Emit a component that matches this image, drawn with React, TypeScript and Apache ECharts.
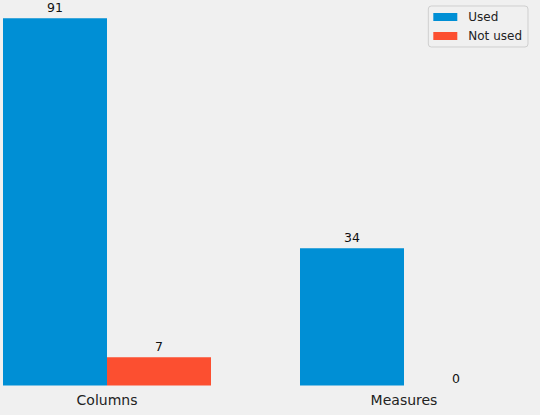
import React, { useEffect, useRef } from "react";
import * as echarts from "echarts";

const categories = ["Columns", "Measures"];
const usedValues = [91, 34];
const notUsedValues = [7, 0];
const seriesNames = ["Used", "Not used"];

export default function App() {
  const ref = useRef<HTMLDivElement>(null);
  useEffect(() => {
    document.body.style.margin = "0";
    document.body.style.background = "#f0f0f0";
    const chart = echarts.init(ref.current!, null, { renderer: "svg" });
    const font = "DejaVu Sans";
    const label = {
      show: true,
      position: "top" as const,
      distance: 4,
      color: "#111",
      fontSize: 12.5,
      fontFamily: font,
    };
    const toData = (vals: number[]) =>
      vals.map((v) => (v === 0 ? { value: v, label: { distance: 1 } } : v));
    chart.setOption({
      animation: false,
      backgroundColor: "#f0f0f0",
      textStyle: { fontFamily: font },
      grid: { left: 107, right: 136, top: 0, bottom: 29.5 },
      xAxis: {
        type: "category",
        data: categories,
        boundaryGap: false,
        axisLine: { show: false },
        axisTick: { show: false },
        splitLine: { show: false },
        axisLabel: { color: "#222", fontSize: 14, fontFamily: font, margin: 7 },
      },
      yAxis: {
        type: "value",
        min: 0,
        max: 95.55,
        show: false,
        splitLine: { show: false },
      },
      legend: {
        orient: "vertical",
        right: 12,
        top: 6,
        data: seriesNames,
        itemWidth: 24,
        itemHeight: 8,
        itemGap: 7,
        padding: [5, 6, 5, 5],
        backgroundColor: "#f0f0f0",
        borderColor: "#cfcfcf",
        borderWidth: 1,
        borderRadius: 3,
        icon: "rect",
        textStyle: { color: "#222", fontSize: 12, fontFamily: font, padding: [0, 0, 0, 6] },
      },
      series: [
        {
          name: seriesNames[0],
          type: "bar",
          data: toData(usedValues),
          barWidth: 104,
          barGap: "0%",
          clip: false,
          itemStyle: { color: "#008fd5" },
          label,
        },
        {
          name: seriesNames[1],
          type: "bar",
          data: toData(notUsedValues),
          barWidth: 104,
          barGap: "0%",
          clip: false,
          itemStyle: { color: "#fc4f30" },
          label,
        },
      ],
    });
    return () => chart.dispose();
  }, []);
  return (
    <div
      ref={ref}
      style={{ position: "fixed", left: 0, top: 0, width: 540, height: 415 }}
    />
  );
}
